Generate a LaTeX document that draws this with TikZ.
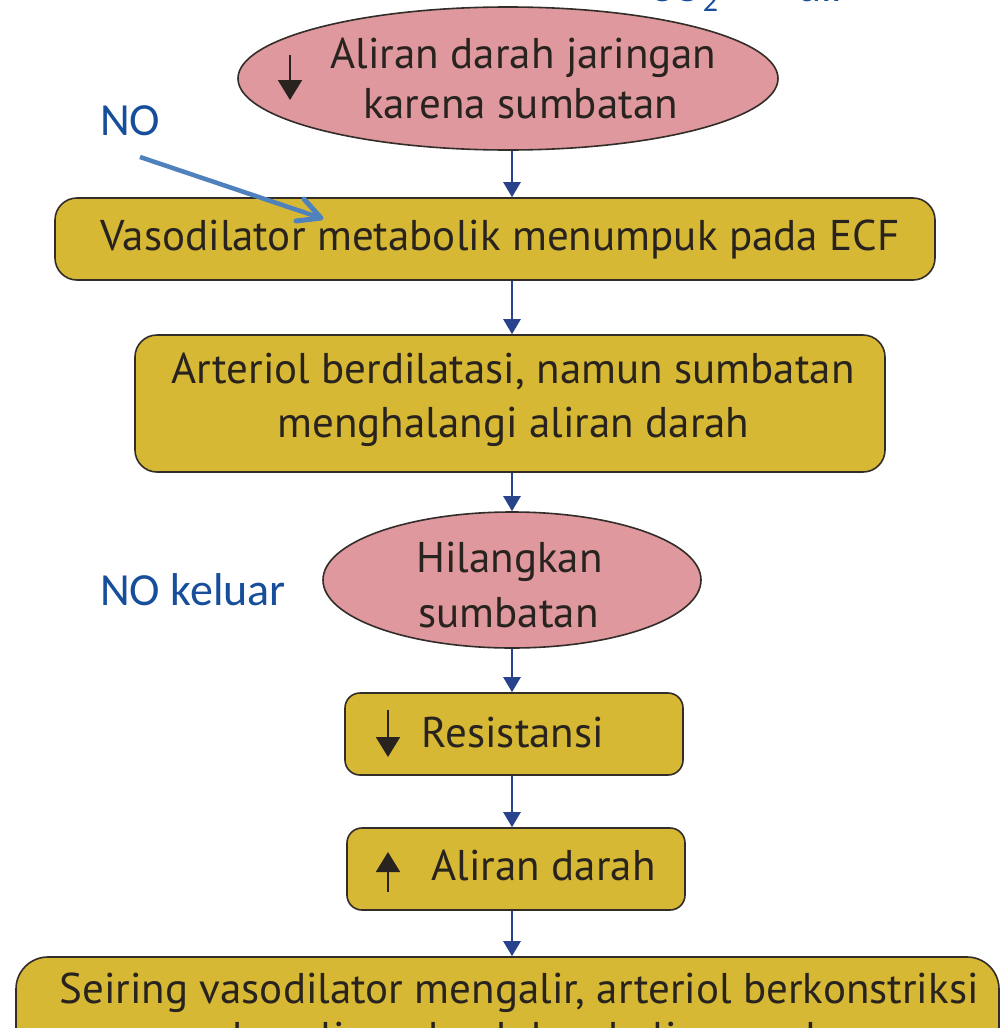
\documentclass[tikz,border=0pt]{standalone}
\usepackage{fontspec}
\setmainfont{PT Sans}
\newfontfamily\labelfont{Carlito}
\usetikzlibrary{shapes.geometric,arrows.meta,calc}

\definecolor{boxfill}{RGB}{214,184,52}
\definecolor{ovalfill}{RGB}{222,152,158}
\definecolor{edgeline}{RGB}{50,45,40}
\definecolor{inktext}{RGB}{40,35,30}
\definecolor{flowblue}{RGB}{40,66,140}
\definecolor{noteblue}{RGB}{22,78,156}
\definecolor{pointerblue}{RGB}{79,129,189}

\tikzset{
  stepbox/.style={draw=edgeline, line width=1.6pt, fill=boxfill, rounded corners=22pt, inner sep=0pt},
  smallbox/.style={stepbox, rounded corners=15pt},
  oval/.style={ellipse, draw=edgeline, line width=1.6pt, fill=ovalfill, inner sep=0pt},
  txt/.style={inner sep=0pt, anchor=base, text=inktext, font=\fontsize{43}{50}\selectfont},
  note/.style={inner sep=0pt, anchor=base west, text=noteblue, font=\labelfont\fontsize{46}{54}\selectfont},
  flow/.style={draw=flowblue, line width=2.5pt, -{Triangle[length=15pt,width=17pt]}},
  updown/.style={draw=inktext, line width=2pt, -{Triangle[length=20pt,width=24pt]}},
  pointer/.style={draw=pointerblue, line width=4.5pt},
  pointerhead/.style={draw=pointerblue, line width=5pt, line cap=round, line join=round}
}

\begin{document}
\begin{tikzpicture}[x=1pt,y=-1pt]
\useasboundingbox (0,0) rectangle (1004,1028);
\fill[white] (0,0) rectangle (1004,1028);
\begin{scope}
\clip (0,0) rectangle (1004,1028);

% vertical axis of the flow
\coordinate (axis) at (512,0);

% shapes
\node[oval, minimum width=540pt, minimum height=143pt] (e1) at (508,78.5) {};
\node[stepbox, minimum width=880pt, minimum height=82pt] (b2) at (495,239) {};
\node[stepbox, minimum width=750pt, minimum height=137pt] (b3) at (510,403.5) {};
\node[oval, minimum width=378pt, minimum height=136pt] (e2) at (512,580) {};
\node[smallbox, minimum width=338pt, minimum height=82pt] (b4) at (514,734) {};
\node[smallbox, minimum width=338pt, minimum height=82pt] (b5) at (516,869) {};
\node[stepbox, rounded corners=32pt, minimum width=983pt, minimum height=150pt] (b6) at (507.5,1032) {};

% texts
\node[txt] (t1a) at (523.5,68) {Aliran darah jaringan};
\node[txt] (t1b) at (520.5,118) {karena sumbatan};
\node[txt] (t2) at (500,250) {Vasodilator metabolik menumpuk pada ECF};
\node[txt] (t3a) at (513,383) {Arteriol berdilatasi, namun sumbatan};
\node[txt] (t3b) at (513.5,437) {menghalangi aliran darah};
\node[txt] (t4a) at (509.5,572) {Hilangkan};
\node[txt] (t4b) at (508.5,627) {sumbatan};
\node[txt] (t5) at (513,747) {Resistansi};
\node[txt] (t6) at (543.5,880) {Aliran darah};
\node[txt] (t7a) at (519,1003) {Seiring vasodilator mengalir, arteriol berkonstriksi};
\node[txt] (t7b) at (519,1052) {dan aliran darah kembali normal};

% small up/down markers inside the shapes
\draw[updown] (290,55) -- (290,100);
\draw[updown] (388,710) -- (388,757);
\draw[updown] (388,892) -- (388,852);

% flow connectors
\draw[flow] (e1.south -| axis) -- (b2.north -| axis);
\draw[flow] (b2.south -| axis) -- (b3.north -| axis);
\draw[flow] (b3.south -| axis) -- (e2.north -| axis);
\draw[flow] (e2.south -| axis) -- (b4.north -| axis);
\draw[flow] (b4.south -| axis) -- (b5.north -| axis);
\draw[flow] (b5.south -| axis) -- (b6.north -| axis);

% blue notes
\node[note] (co2) at (648,1) {CO\raisebox{-10pt}{\fontsize{30}{30}\selectfont 2}};
\node[note] (dll) at (797,1) {dll};
\node[note] (no) at (100,135) {NO};
\node[note] (nokeluar) at (100,605) {NO keluar};

% pointer from the NO note into the ECF box, with an open V head
\coordinate (ptail) at (140,157);
\coordinate (ptip) at (321,218);
\draw[pointer] (ptail) -- ($(ptip)+(-3,-1)$);
\draw[pointerhead] ($(ptip)+(-25,3)$) -- (ptip) -- ($(ptip)+(-17,-19)$);
\end{scope}
\end{tikzpicture}
\end{document}
